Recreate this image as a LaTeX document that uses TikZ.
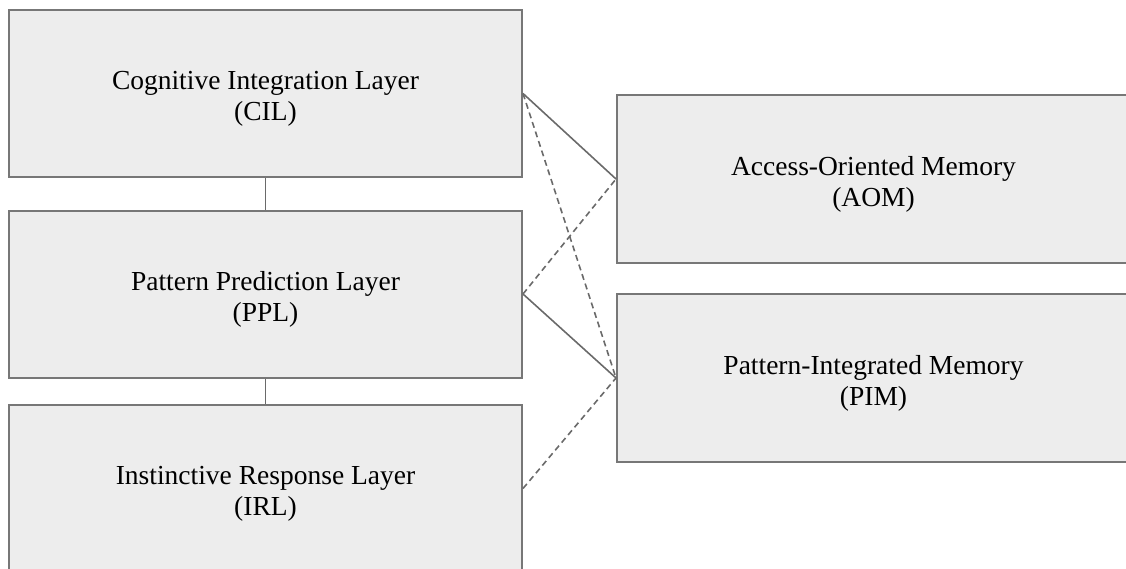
\documentclass[tikz,border=0pt]{standalone}
\usepackage{fontspec}
\setmainfont{Liberation Serif}
\definecolor{boxfill}{HTML}{EDEDED}
\definecolor{boxline}{HTML}{777777}
\definecolor{conn}{HTML}{6A6A6A}
\newcommand\boxlabel[2]{\raisebox{-12pt}[0pt][0pt]{\begin{tabular}{@{}c@{}}#1\\#2\end{tabular}}}
\begin{document}
\begin{tikzpicture}[x=1pt,y=-1pt,
  layerbox/.style={draw=boxline,fill=boxfill,line width=2pt,rectangle,inner sep=0pt,minimum width=513pt,minimum height=167pt,
    font=\fontsize{27.5}{31}\selectfont},
  solidconn/.style={draw=conn,line width=1.6pt},
  dashconn/.style={draw=conn,line width=1.6pt,dash pattern=on 6pt off 4pt}]
\useasboundingbox (0,0) rectangle (1126,568);
\begin{scope}
\clip (0,0) rectangle (1126,568);
\node[layerbox] (CIL) at (265.5,93.5) {\boxlabel{Cognitive Integration Layer}{(CIL)}};
\node[layerbox] (PPL) at (265.5,294) {\boxlabel{Pattern Prediction Layer}{(PPL)}};
\node[layerbox] (IRL) at (265.5,488.5) {\boxlabel{Instinctive Response Layer}{(IRL)}};
\node[layerbox,minimum height=168pt] (AOM) at (873.5,179) {\boxlabel{Access-Oriented Memory}{(AOM)}};
\node[layerbox,minimum height=168pt] (PIM) at (873.5,378) {\boxlabel{Pattern-Integrated Memory}{(PIM)}};
\end{scope}
\draw[solidconn] (CIL.south) -- (PPL.north);
\draw[solidconn] (PPL.south) -- (IRL.north);
\draw[solidconn] (CIL.east) -- (AOM.west);
\draw[dashconn] (CIL.east) -- (PIM.west);
\draw[dashconn] (PPL.east) -- (AOM.west);
\draw[solidconn] (PPL.east) -- (PIM.west);
\draw[dashconn] (IRL.east) -- (PIM.west);
\end{tikzpicture}
\end{document}
